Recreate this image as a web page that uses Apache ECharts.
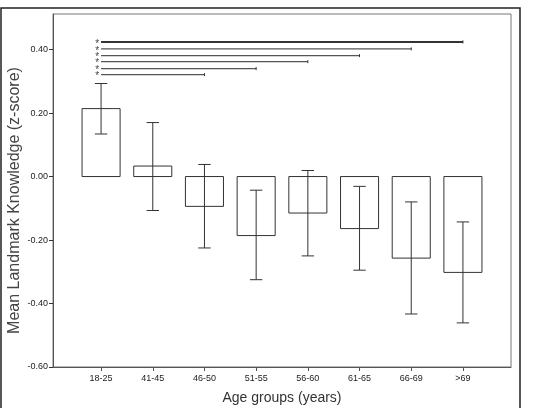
<!DOCTYPE html>
<html lang="en">
<head>
    <meta charset="utf-8">
    <script src="https://cdn.jsdelivr.net/npm/echarts@6.0.0/dist/echarts.min.js"></script>
    <title></title>
</head>
<body style="margin:0;">
<div id="main" style="width: 533px;height:408px;"></div>
<script type="text/javascript">
    // age groups and mean z-scores with error bar ends
    var categories = ['18-25', '41-45', '46-50', '51-55', '56-60', '61-65', '66-69', '>69'];
    var means = [0.214, 0.033, -0.094, -0.186, -0.115, -0.164, -0.257, -0.302];
    var errLow = [0.134, -0.107, -0.225, -0.325, -0.250, -0.295, -0.433, -0.461];
    var errHigh = [0.293, 0.170, 0.038, -0.043, 0.019, -0.031, -0.080, -0.143];
    // significance brackets: from 18-25 to group index, drawn at this level
    var sigEnd = [7, 6, 5, 4, 3, 2];
    var sigLevel = [0.424, 0.402, 0.381, 0.362, 0.340, 0.321];
    var yTicks = [-0.6, -0.4, -0.2, 0, 0.2, 0.4];

    var barData = categories.map(function (c, i) {
        return [i, means[i], errLow[i], errHigh[i]];
    });
    var sigData = sigEnd.map(function (e, i) {
        return [0, e, sigLevel[i], i];
    });

    var myChart = echarts.init(document.getElementById('main'));
    var halfBar = 0.368, halfCap = 0.12;
    var txt = '#333';

    var option = {
        animation: false,
        textStyle: {fontFamily: 'Liberation Sans'},
        graphic: [{
            type: 'rect',
            shape: {x: 1, y: 8, width: 519, height: 420},
            style: {fill: null, stroke: '#222', lineWidth: 1.5},
            silent: true
        }],
        grid: {
            left: 53, top: 14, right: 22, bottom: 41,
            containLabel: false,
            outerBoundsMode: 'none',
            show: true, borderColor: '#777', borderWidth: 1
        },
        xAxis: {
            type: 'value',
            min: -0.93,
            max: 7.93,
            name: 'Age groups (years)',
            nameLocation: 'middle',
            nameGap: 24,
            nameMoveOverlap: false,
            nameTextStyle: {fontSize: 14, color: txt},
            splitLine: {show: false},
            axisLine: {onZero: false, lineStyle: {color: '#555'}},
            axisTick: {customValues: [0, 1, 2, 3, 4, 5, 6, 7], length: 4, lineStyle: {color: '#555'}},
            axisLabel: {
                customValues: [0, 1, 2, 3, 4, 5, 6, 7],
                fontSize: 9, color: '#222', margin: 7,
                formatter: function (v) { return categories[Math.round(v)]; }
            }
        },
        yAxis: {
            type: 'value',
            min: -0.6,
            max: 0.512,
            name: 'Mean Landmark Knowledge (z-score)',
            nameLocation: 'middle',
            nameGap: 30,
            nameMoveOverlap: false,
            nameTextStyle: {fontSize: 16, color: '#444', padding: [0, 20, 0, 0]},
            splitLine: {show: false},
            axisLine: {show: true, onZero: false, lineStyle: {color: '#555'}},
            axisTick: {show: true, customValues: yTicks, length: 4, lineStyle: {color: '#333'}},
            axisLabel: {
                customValues: yTicks,
                fontSize: 9, color: '#222', margin: 5,
                formatter: function (v) { return v.toFixed(2); }
            }
        },
        series: [
            {
                type: 'custom',
                data: barData,
                renderItem: function (params, api) {
                    var x = api.value(0);
                    var m = api.value(1);
                    var p0 = api.coord([x - halfBar, 0]);
                    var p1 = api.coord([x + halfBar, m]);
                    var lo = api.coord([x, api.value(2)]);
                    var hi = api.coord([x, api.value(3)]);
                    var cl = api.coord([x - halfCap, 0])[0];
                    var cr = api.coord([x + halfCap, 0])[0];
                    var ls = {stroke: '#333', lineWidth: 1};
                    return {
                        type: 'group',
                        children: [
                            {
                                type: 'rect',
                                shape: {
                                    x: p0[0], y: Math.min(p0[1], p1[1]),
                                    width: p1[0] - p0[0], height: Math.abs(p1[1] - p0[1])
                                },
                                style: {fill: '#fff', stroke: '#333', lineWidth: 1}
                            },
                            {type: 'line', shape: {x1: hi[0], y1: hi[1], x2: lo[0], y2: lo[1]}, style: ls},
                            {type: 'line', shape: {x1: cl, y1: hi[1], x2: cr, y2: hi[1]}, style: ls},
                            {type: 'line', shape: {x1: cl, y1: lo[1], x2: cr, y2: lo[1]}, style: ls}
                        ]
                    };
                }
            },
            {
                type: 'custom',
                data: sigData,
                renderItem: function (params, api) {
                    var a = api.coord([api.value(0), api.value(2)]);
                    var b = api.coord([api.value(1), api.value(2)]);
                    var top = api.value(3) === 0;
                    return {
                        type: 'group',
                        children: [
                            {
                                type: 'line',
                                shape: {x1: a[0], y1: a[1], x2: b[0], y2: b[1]},
                                style: {stroke: top ? '#333' : '#555', lineWidth: top ? 2 : 1.3}
                            },
                            {
                                type: 'line',
                                shape: {x1: b[0], y1: b[1] - 1.5, x2: b[0], y2: b[1] + 1.5},
                                style: {stroke: '#333', lineWidth: 1}
                            },
                            {
                                type: 'text',
                                style: {
                                    text: '*', x: a[0] - 2, y: a[1] + 2,
                                    fill: '#444', fontSize: 10,
                                    align: 'right', verticalAlign: 'middle'
                                }
                            }
                        ]
                    };
                }
            }
        ]
    };

    myChart.setOption(option);
</script>
</body>
</html>
